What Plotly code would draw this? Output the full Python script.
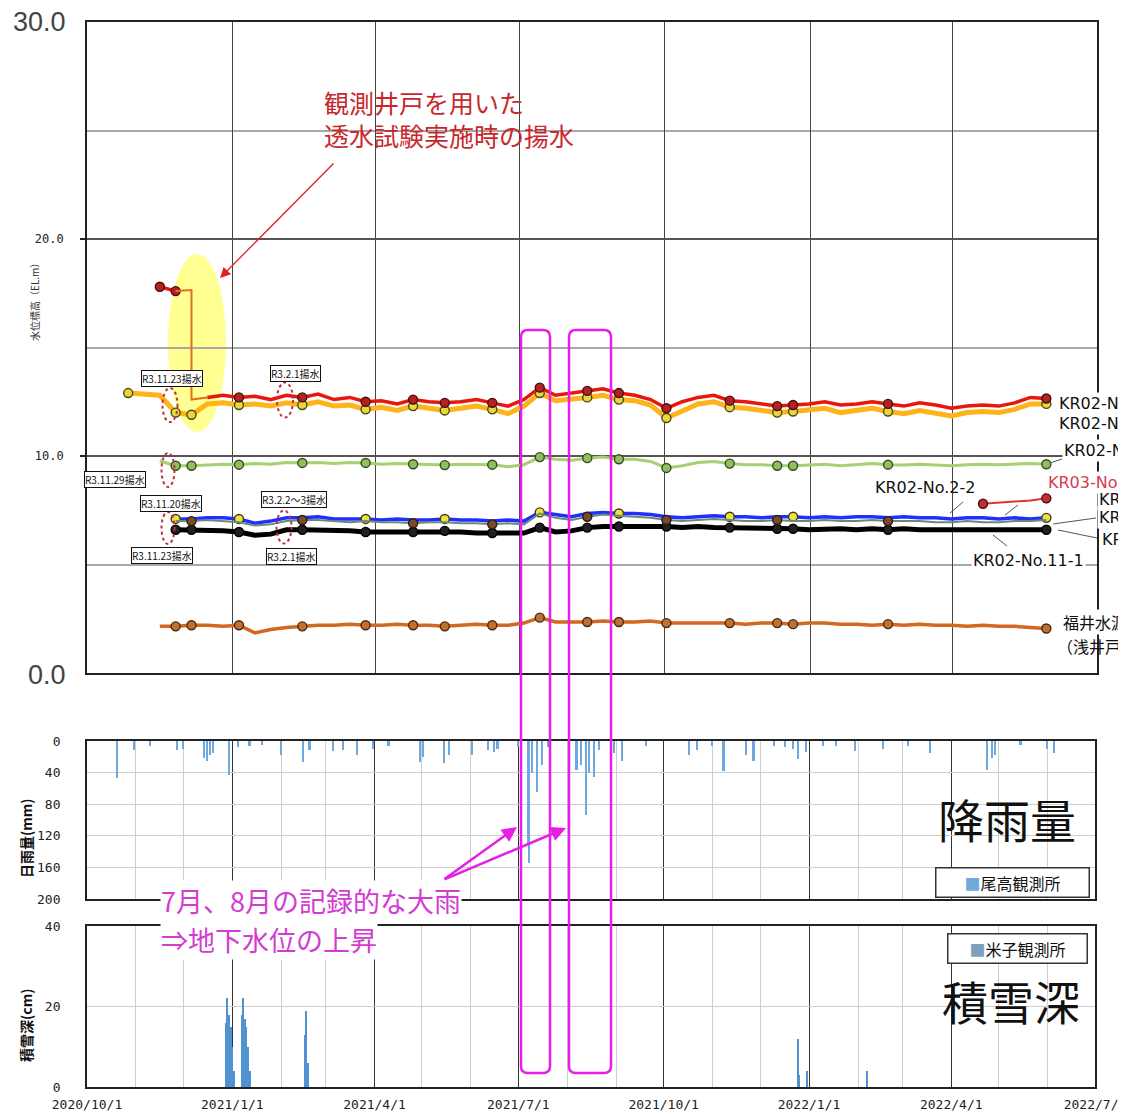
import plotly.graph_objects as go
import pandas as pd

# page body has an 8px margin; the figure is sized to fill the rest of the window
OFF = 8
W, H = 1126 - OFF, 1114 - OFF
N = None

# ---------------- data ----------------
# groundwater level sample dates (every 10 days, 2020/10/27 .. 2022/5/30)
DATES = pd.date_range("2020-10-27", "2022-05-30", freq="10D")

KR02_1_1 = [N, N, 17.8, 17.6, N, 12.7, 12.8, 12.7, 12.75, 12.6,
            12.8, 12.7, 12.85, 12.6, 12.7, 12.5, 12.55, 12.4, 12.6, 12.5,
            12.45, 12.5, 12.6, 12.45, 12.3, 12.6, 13.15, 12.8, 12.9, 13.0,
            13.1, 12.9, 12.8, 12.6, 12.2, 12.5, 12.7, 12.8, 12.55, 12.5,
            12.4, 12.3, 12.35, 12.4, 12.5, 12.35, 12.4, 12.5, 12.4, 12.3,
            12.45, 12.35, 12.2, 12.3, 12.35, 12.3, 12.45, 12.7, 12.65]
KR02_1_2 = [12.9, 12.85, 12.8, 12.0, 11.9, 12.4, 12.45, 12.35, 12.4, 12.3,
            12.45, 12.35, 12.5, 12.3, 12.35, 12.15, 12.25, 12.1, 12.3, 12.2,
            12.1, 12.2, 12.3, 12.15, 11.95, 12.3, 12.9, 12.55, 12.6, 12.7,
            12.8, 12.6, 12.55, 12.35, 11.75, 12.1, 12.4, 12.5, 12.25, 12.2,
            12.1, 12.0, 12.05, 12.1, 12.2, 12.0, 12.1, 12.2, 12.05, 11.95,
            12.1, 12.0, 11.85, 12.0, 12.05, 12.0, 12.15, 12.4, 12.4]
KR02_3 = [N, N, 9.77, 9.55, 9.55, 9.6, 9.62, 9.6, 9.65, 9.62,
          9.7, 9.68, 9.7, 9.65, 9.7, 9.68, 9.62, 9.65, 9.62, 9.6,
          9.58, 9.62, 9.6, 9.6, 9.5, 9.6, 9.95, 9.85, 9.8, 9.9,
          9.95, 9.85, 9.85, 9.75, 9.45, 9.55, 9.7, 9.75, 9.65, 9.6,
          9.6, 9.55, 9.55, 9.6, 9.62, 9.55, 9.6, 9.65, 9.6, 9.58,
          9.62, 9.6, 9.55, 9.6, 9.62, 9.6, 9.62, 9.65, 9.62]
KR02_BLUE = [N, N, N, 7.1, 7.1, 7.15, 7.15, 7.1, 6.9, 7.0,
             7.15, 7.15, 7.2, 7.1, 7.1, 7.1, 7.05, 7.1, 7.05, 7.05,
             7.1, 7.05, 7.05, 7.0, 7.05, 7.0, 7.4, 7.3, 7.2, 7.35,
             7.4, 7.35, 7.35, 7.3, 7.2, 7.15, 7.2, 7.25, 7.2, 7.2,
             7.15, 7.2, 7.2, 7.15, 7.2, 7.15, 7.2, 7.2, 7.15, 7.2,
             7.15, 7.15, 7.1, 7.15, 7.15, 7.1, 7.15, 7.1, 7.15]
KR02_2_2 = [N, N, N, 7.0, 7.0, 7.05, 7.0, 6.95, 6.8, 6.85,
            7.0, 7.05, 7.05, 7.0, 6.95, 7.0, 6.95, 6.95, 6.9, 6.95,
            6.95, 6.9, 6.9, 6.85, 6.9, 6.85, 7.35, 7.15, 7.05, 7.2,
            7.3, 7.25, 7.2, 7.15, 7.05, 7.0, 7.05, 7.1, 7.05, 7.0,
            7.0, 7.05, 7.0, 7.0, 7.05, 7.0, 7.0, 7.05, 7.0, 7.0,
            7.0, 6.95, 6.95, 7.0, 6.95, 6.95, 7.0, 7.0, 7.05]
KR02_11_1 = [N, N, N, 6.6, 6.6, 6.6, 6.55, 6.5, 6.35, 6.4,
             6.6, 6.6, 6.6, 6.55, 6.55, 6.5, 6.5, 6.55, 6.5, 6.5,
             6.55, 6.5, 6.45, 6.45, 6.4, 6.45, 6.7, 6.5, 6.55, 6.7,
             6.75, 6.75, 6.8, 6.8, 6.75, 6.7, 6.75, 6.7, 6.7, 6.65,
             6.7, 6.65, 6.65, 6.6, 6.65, 6.65, 6.6, 6.65, 6.6, 6.65,
             6.6, 6.6, 6.55, 6.6, 6.6, 6.55, 6.6, 6.6, 6.6]
KR03_4 = [N] * 54 + [7.8, 7.85, 7.9, 7.95, 8.05]
FUKUI = [N, N, 2.15, 2.15, 2.2, 2.2, 2.15, 2.2, 1.85, 2.0,
         2.1, 2.15, 2.2, 2.2, 2.25, 2.2, 2.2, 2.25, 2.2, 2.2,
         2.15, 2.2, 2.25, 2.2, 2.2, 2.3, 2.55, 2.35, 2.35, 2.35,
         2.4, 2.35, 2.35, 2.4, 2.3, 2.3, 2.3, 2.3, 2.3, 2.25,
         2.3, 2.3, 2.25, 2.3, 2.3, 2.25, 2.25, 2.2, 2.25, 2.2,
         2.25, 2.2, 2.2, 2.15, 2.2, 2.15, 2.15, 2.1, 2.05]

# indices of the manual measurement dates (markers)
MK = [3, 4, 7, 11, 15, 18, 20, 23, 26, 29, 31, 34, 38, 41, 42, 48, 58]
MK_RED = [2, 3] + MK[2:]
MK_YEL = [0, 3, 4] + MK[2:]
MK_KR03 = [54, 58]

# pumping test drop (KR02 upper well)
PUMP_DATES = ["2020-11-26", "2020-12-06", "2020-12-06", "2020-12-16"]
PUMP_VALS = [17.6, 17.65, 12.6, 12.7]

# daily rainfall (尾高観測所), mm
RAIN_DATES = ["2020-10-20", "2020-10-31", "2020-11-10", "2020-11-27", "2020-12-01",
              "2020-12-14", "2020-12-16", "2020-12-18", "2020-12-20", "2020-12-30",
              "2021-01-05", "2021-01-12", "2021-01-20", "2021-02-01", "2021-02-15",
              "2021-02-19", "2021-03-06", "2021-03-12", "2021-03-21", "2021-03-31",
              "2021-04-10", "2021-04-30", "2021-05-02", "2021-05-15", "2021-05-18",
              "2021-06-02", "2021-06-12", "2021-06-16", "2021-06-18", "2021-07-01",
              "2021-07-07", "2021-07-08", "2021-07-10", "2021-07-13", "2021-07-16",
              "2021-07-20", "2021-08-07", "2021-08-10", "2021-08-13", "2021-08-15",
              "2021-08-18", "2021-08-21", "2021-08-31", "2021-09-05", "2021-09-20",
              "2021-10-17", "2021-10-22", "2021-11-01", "2021-11-08", "2021-11-22",
              "2021-11-27", "2021-12-10", "2021-12-17", "2021-12-22", "2021-12-25",
              "2021-12-30", "2022-01-10", "2022-01-18", "2022-01-30", "2022-02-17",
              "2022-03-05", "2022-03-19", "2022-04-24", "2022-04-27", "2022-04-29",
              "2022-05-15", "2022-06-01", "2022-06-05"]
RAIN_MM = [47, 11, 6, 12, 10,
           22, 25, 18, 15, 43,
           8, 6, 5, 18, 26,
           12, 13, 12, 18, 10,
           6, 26, 20, 28, 18,
           18, 11, 14, 10, 8,
           129, 155, 40, 65, 30,
           8, 37, 30, 94, 40,
           45, 12, 15, 25, 6,
           18, 12, 6, 38, 18,
           25, 6, 8, 10, 23,
           14, 6, 6, 13, 10,
           6, 15, 37, 22, 18,
           5, 10, 15]

# snow depth (米子観測所), cm
SNOW_DATES = ["2020-12-28", "2020-12-29", "2020-12-30", "2020-12-31", "2021-01-01",
              "2021-01-02", "2021-01-07", "2021-01-08", "2021-01-09", "2021-01-10",
              "2021-01-11", "2021-01-12", "2021-02-16", "2021-02-17", "2021-02-18",
              "2021-12-25", "2021-12-26", "2021-12-31", "2022-02-07"]
SNOW_CM = [16, 22, 18, 15, 10,
           4, 18, 22, 17, 15,
           10, 4, 13, 19, 6,
           12, 3, 4, 4]

TICK_DATES = ["2020-10-01", "2021-01-01", "2021-04-01", "2021-07-01",
              "2021-10-01", "2022-01-01", "2022-04-01", "2022-07-01"]
TICK_LABELS = ["2020/10/1", "2021/1/1", "2021/4/1", "2021/7/1",
               "2021/10/1", "2022/1/1", "2022/4/1", "2022/7/1"]

# ---------------- helpers (screen pixel -> paper) ----------------
def PX(x):
    return (x - OFF) / W


def PY(y):
    return 1 - (y - OFF) / H


JP = "Noto Sans CJK JP"
MONO = "DejaVu Sans Mono"
fig = go.Figure()


def add_series(vals, color, width, mk_idx, mk_fill, mk_line="#3a3a1a", name=""):
    fig.add_trace(go.Scatter(x=DATES, y=vals, mode="lines", name=name,
                             line=dict(color=color, width=width), connectgaps=False,
                             xaxis="x", yaxis="y", hoverinfo="skip"))
    mx = [DATES[i] for i in mk_idx if vals[i] is not None]
    my = [vals[i] for i in mk_idx if vals[i] is not None]
    fig.add_trace(go.Scatter(x=mx, y=my, mode="markers", name=name,
                             marker=dict(size=9, color=mk_fill,
                                         line=dict(color=mk_line, width=1.4)),
                             xaxis="x", yaxis="y", hoverinfo="skip"))


add_series(FUKUI, "#d2691e", 3.5, MK, "#c07030", "#4a2a10", "福井水源地")
add_series(KR02_3, "#a8d070", 3, MK, "#8fc060", "#3a4a20", "KR02-No.3")
add_series(KR02_11_1, "#000000", 5, MK, "#202020", "#000000", "KR02-No.11-1")
add_series(KR02_BLUE, "#1f2fff", 3.5, MK[::2], "#f0e040", "#3a3a1a", "KR02-No.2-1")
add_series(KR02_2_2, "#6a8a78", 2, MK[1::2], "#7a4a30", "#2a1a10", "KR02-No.2-2")
add_series(KR03_4, "#e03030", 2, MK_KR03, "#c03030", "#501010", "KR03-No.4")
add_series(KR02_1_2, "#ffb31a", 5, MK_YEL, "#e8d840", "#4a4a10", "KR02-No.1-2")
add_series(KR02_1_1, "#e8160c", 3.5, MK_RED, "#b82020", "#401010", "KR02-No.1-1")
fig.add_trace(go.Scatter(x=PUMP_DATES, y=PUMP_VALS, mode="lines",
                         line=dict(color="#e07020", width=2),
                         xaxis="x", yaxis="y", hoverinfo="skip"))

fig.add_trace(go.Bar(x=RAIN_DATES, y=RAIN_MM, marker_color="#6fa8dc",
                     marker_line_width=0, width=86400000 * 1.0,
                     xaxis="x2", yaxis="y2", hoverinfo="skip"))
fig.add_trace(go.Bar(x=SNOW_DATES, y=SNOW_CM, marker_color="#4f93d2",
                     marker_line_width=0, width=86400000 * 1.0,
                     xaxis="x3", yaxis="y3", hoverinfo="skip"))

XR = ["2020-10-01", "2022-07-01"]
frame = dict(showline=True, mirror=True, linecolor="#222", linewidth=1.8)
tickfont = dict(family=MONO, size=13, color="#222")

fig.update_layout(
    width=W, height=H, margin=dict(l=0, r=0, t=0, b=0, autoexpand=False),
    paper_bgcolor="white", plot_bgcolor="white", showlegend=False, bargap=0,
    xaxis=dict(domain=[PX(87), PX(1097)], anchor="y", range=XR, type="date",
               tickvals=TICK_DATES, showticklabels=False, showgrid=True,
               gridcolor="#444", gridwidth=1, ticks="", zeroline=False,
               automargin=False, **frame),
    yaxis=dict(domain=[PY(673), PY(22)], anchor="x", range=[0, 30],
               tickvals=[10, 20], ticktext=["10.0", "20.0"],
               tickfont=dict(family=MONO, size=12, color="#222"),
               ticks="outside", ticklen=5, tickcolor="#222", tickwidth=2,
               ticklabelstandoff=14, automargin=False,
               showgrid=True, gridcolor="#555", gridwidth=1.5, zeroline=False,
               minor=dict(dtick=5, tick0=0, showgrid=True, gridcolor="#a8a8a8",
                          gridwidth=1.5, ticks=""),
               **frame),
    xaxis2=dict(domain=[PX(87), PX(1095)], anchor="y2", range=XR, type="date",
                tickvals=TICK_DATES, showticklabels=False, showgrid=True,
                gridcolor="#333", gridwidth=1.2, ticks="", zeroline=False,
                automargin=False,
                minor=dict(dtick="M1", tick0="2020-10-01", showgrid=True,
                           gridcolor="#cfcfcf", gridwidth=1),
                **frame),
    yaxis2=dict(domain=[PY(899), PY(741)], anchor="x2", range=[200, 0],
                tickvals=[0, 40, 80, 120, 160, 200], tickfont=tickfont,
                ticks="", ticklabelstandoff=22, automargin=False,
                showgrid=True, gridcolor="#cfcfcf", gridwidth=1, zeroline=False,
                **frame),
    xaxis3=dict(domain=[PX(87), PX(1095)], anchor="y3", range=XR, type="date",
                tickvals=TICK_DATES, ticktext=TICK_LABELS, tickfont=tickfont,
                showgrid=True, gridcolor="#333", gridwidth=1.2, ticks="",
                ticklabelstandoff=4, ticklabeloverflow="allow",
                zeroline=False, automargin=False,
                minor=dict(dtick="M1", tick0="2020-10-01", showgrid=True,
                           gridcolor="#cfcfcf", gridwidth=1),
                **frame),
    yaxis3=dict(domain=[PY(1087), PY(926)], anchor="x3", range=[0, 40],
                tickvals=[0, 20, 40], tickfont=tickfont,
                ticks="", ticklabelstandoff=22, automargin=False,
                showgrid=True, gridcolor="#cfcfcf", gridwidth=1, zeroline=False,
                **frame),
)

ann = []
shapes = []


def text(x, y, t, size=12, color="#111", xanchor="center", yanchor="middle",
         family=JP, angle=0, bg=None, **kw):
    d = dict(x=PX(x), y=PY(y), xref="paper", yref="paper", text=t, showarrow=False,
             xanchor=xanchor, yanchor=yanchor, textangle=angle,
             font=dict(family=family, size=size, color=color))
    if bg:
        d["bgcolor"] = bg
    d.update(kw)
    ann.append(d)


# big end tick labels
text(68, 22, "30.0", size=27, color="#444", xanchor="right", family="Liberation Sans")
text(68, 675, "0.0", size=27, color="#444", xanchor="right", family="Liberation Sans")

# axis titles
text(34, 300, "水位標高（EL.m）", size=10, angle=-90, color="#333")
text(26, 838, "<b>日雨量(mm)</b>", size=14, angle=-90)
text(26, 1026, "<b>積雪深(cm)</b>", size=14, angle=-90)

# red annotation
text(322, 119, "観測井戸を用いた<br>透水試験実施時の揚水", size=25, color="#c8282d",
     xanchor="left", align="left")
ann.append(dict(x=PX(220), y=PY(278), xref="paper", yref="paper", ax=115, ay=-116,
                showarrow=True, arrowhead=2, arrowsize=1.6, arrowwidth=1.3,
                arrowcolor="#e02020", text=""))

# yellow highlight
shapes.append(dict(type="circle", xref="paper", yref="paper", layer="below",
                   x0=PX(168), x1=PX(226), y0=PY(432), y1=PY(254),
                   fillcolor="rgba(255,255,110,0.75)", line=dict(width=0)))

# boxed pumping labels
for (cx, cy, t) in [(172, 378, "R3.11.23揚水"), (295, 373, "R3.2.1揚水"),
                    (115, 479, "R3.11.29揚水"), (171, 503, "R3.11.20揚水"),
                    (294, 500, "R3.2.2～3揚水"), (162, 555, "R3.11.23揚水"),
                    (291, 557, "R3.2.1揚水")]:
    text(cx, cy, t, size=10, color="#111", bg="white", bordercolor="#111",
         borderwidth=1, borderpad=0)

# dotted red ellipses
for (cx, cy, w, h) in [(170, 405, 15, 34), (285, 400, 16, 35), (168, 470, 13, 34),
                       (168, 528, 13, 32), (284, 527, 15, 33)]:
    shapes.append(dict(type="circle", xref="paper", yref="paper",
                       x0=PX(cx - w / 2), x1=PX(cx + w / 2),
                       y0=PY(cy + h / 2), y1=PY(cy - h / 2),
                       line=dict(color="#c03040", width=2, dash="dot")))

# right side series labels (cropped by the page edge)
DJ = "DejaVu Sans"
text(1057, 403, "KR02-No.1-1", size=16, xanchor="left", bg="white", family=DJ)
text(1057, 423, "KR02-No.1-2", size=16, xanchor="left", bg="white", family=DJ)
text(1062, 450, "KR02-No.3", size=16, xanchor="left", bg="white", family=DJ)
text(1046, 483, "KR03-No.4", size=16, xanchor="left", bg="white", color="#d04050",
     family=DJ)
text(1097, 499, "KR02-No.2-1", size=16, xanchor="left", bg="white", family=DJ)
text(1097, 517, "KR02-No.2-3", size=16, xanchor="left", bg="white", family=DJ)
text(1100, 539, "KR02-No.11-2", size=16, xanchor="left", bg="white", family=DJ)
text(925, 488, "KR02-No.2-2", size=16, family=DJ)
text(1028, 560, "KR02-No.11-1", size=16, bg="white", family=DJ)
text(1062, 622, "福井水源地", size=16, xanchor="left", bg="white", borderpad=0)
text(1056, 646, "（浅井戸）", size=16, xanchor="left", borderpad=0)

for (x0, y0, x1, y1) in [(1062, 459, 1050, 463), (963, 502, 950, 513),
                         (993, 535, 1007, 546), (1053, 524, 1096, 518),
                         (1058, 530, 1097, 538), (1005, 515, 1018, 505)]:
    shapes.append(dict(type="line", xref="paper", yref="paper",
                       x0=PX(x0), y0=PY(y0), x1=PX(x1), y1=PY(y1),
                       line=dict(color="#555", width=1)))


# magenta rounded rectangles
def rrect(x0, y0, x1, y1, r):
    return (f"M {PX(x0 + r)},{PY(y0)} L {PX(x1 - r)},{PY(y0)} "
            f"Q {PX(x1)},{PY(y0)} {PX(x1)},{PY(y0 + r)} L {PX(x1)},{PY(y1 - r)} "
            f"Q {PX(x1)},{PY(y1)} {PX(x1 - r)},{PY(y1)} L {PX(x0 + r)},{PY(y1)} "
            f"Q {PX(x0)},{PY(y1)} {PX(x0)},{PY(y1 - r)} L {PX(x0)},{PY(y0 + r)} "
            f"Q {PX(x0)},{PY(y0)} {PX(x0 + r)},{PY(y0)} Z")


for (x0, x1) in [(521, 550), (569, 611)]:
    shapes.append(dict(type="path", xref="paper", yref="paper",
                       path=rrect(x0, 330, x1, 1073, 7),
                       line=dict(color="#e61ee6", width=2.5)))

# magenta text + arrows
text(160, 900, "7月、8月の記録的な大雨", size=27, color="#d23cd2", xanchor="left",
     bg="white", borderpad=0)
text(160, 939, "⇒地下水位の上昇", size=27, color="#d23cd2", xanchor="left",
     bg="white", borderpad=0)
for (hx, hy, axp, ayp) in [(517, 827, -74, 53), (566, 828, -123, 52)]:
    ann.append(dict(x=PX(hx), y=PY(hy), xref="paper", yref="paper", ax=axp, ay=ayp,
                    showarrow=True, arrowhead=2, arrowsize=1.2, arrowwidth=2.5,
                    arrowcolor="#e61ee6", text=""))

# panel labels and legends
text(1007, 818, "降雨量", size=46, color="#111")
text(1011, 1000, "積雪深", size=46, color="#111")
text(1013, 882, "<span style='color:#6fa8dc'>■</span>尾高観測所", size=16,
     bg="white", bordercolor="#333", borderwidth=1.5, width=150, height=26)
text(1017, 948, "<span style='color:#7f9fc0'>■</span>米子観測所", size=16,
     bg="white", bordercolor="#333", borderwidth=1.5, width=136, height=26)

fig.update_layout(annotations=ann, shapes=shapes)
fig.write_html("out.html")
